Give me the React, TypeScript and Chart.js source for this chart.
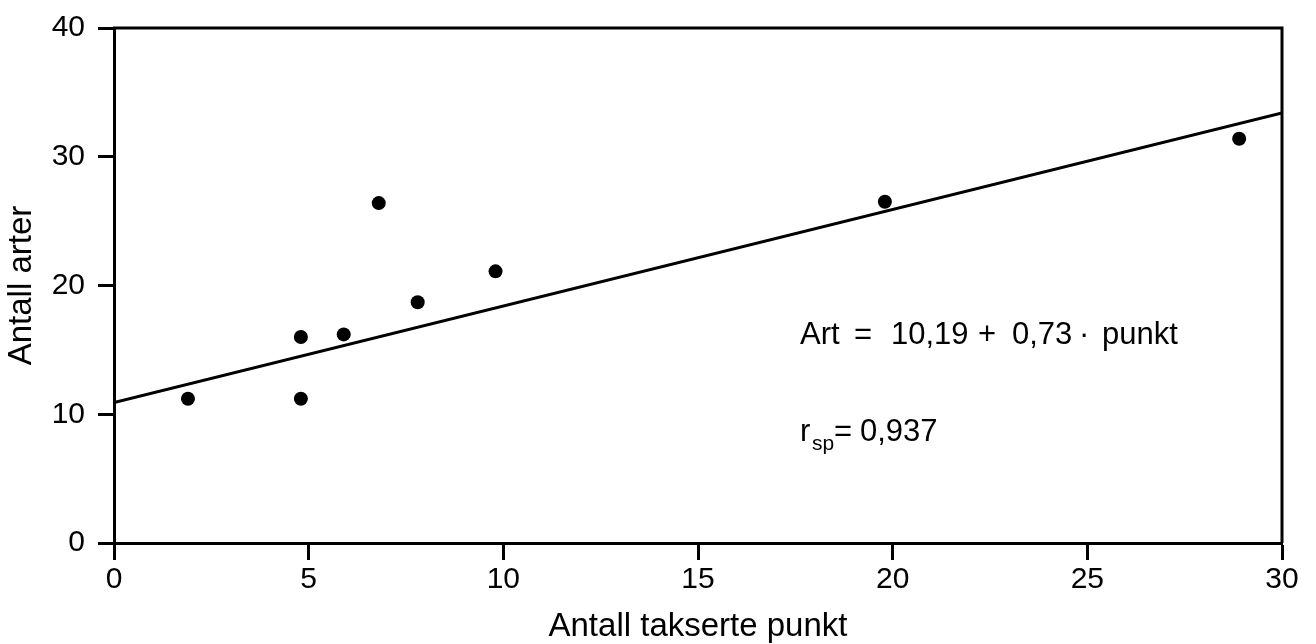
import React, { useEffect, useRef } from "react";
import { Chart, registerables } from "chart.js";

Chart.register(...registerables);

// Data
const pointX = [1.9, 4.8, 4.8, 5.9, 6.8, 7.8, 9.8, 19.8, 28.9];
const pointY = [11.2, 16.0, 11.2, 16.2, 26.4, 18.7, 21.1, 26.5, 31.4];
const fitX = [0, 30];
const fitY = [10.9, 33.4];
const xTickValues = [0, 5, 10, 15, 20, 25, 30];
const yTickValues = [0, 10, 20, 30, 40];
const xTitle = "Antall takserte punkt";
const yTitle = "Antall arter";
const equationParts = ["Art", "=", "10,19", "+", "0,73", "·", "punkt"];
const corrParts = ["r", "sp", "=", "0,937"];

const FONT = "'Liberation Sans', Arial, Helvetica, sans-serif";

const annotationPlugin = {
  id: "frameAndText",
  afterDraw(chart: any) {
    const { ctx, chartArea: a, scales } = chart;
    ctx.save();
    ctx.strokeStyle = "#000";
    ctx.lineWidth = 3;
    ctx.beginPath();
    ctx.moveTo(a.left - 1, a.top);
    ctx.lineTo(a.right, a.top);
    ctx.lineTo(a.right, a.bottom);
    ctx.stroke();

    ctx.fillStyle = "#000";
    ctx.textBaseline = "alphabetic";
    ctx.textAlign = "left";
    const x0 = scales.x.getPixelForValue(17.62);
    const yEq = scales.y.getPixelForValue(15.49);
    const eqOffsets = [0, 54, 91, 178, 212, 279, 302];
    ctx.font = `31px ${FONT}`;
    equationParts.forEach((t, i) => ctx.fillText(t, x0 + eqOffsets[i], yEq));

    const yR = scales.y.getPixelForValue(7.94);
    ctx.font = `31px ${FONT}`;
    ctx.fillText(corrParts[0], x0, yR);
    ctx.font = `21px ${FONT}`;
    ctx.fillText(corrParts[1], x0 + 12, yR + 9);
    ctx.font = `31px ${FONT}`;
    ctx.fillText(corrParts[2], x0 + 34, yR);
    ctx.fillText(corrParts[3], x0 + 60, yR);
    ctx.restore();
  },
};

export default function App() {
  const ref = useRef<HTMLCanvasElement | null>(null);

  useEffect(() => {
    if (!ref.current) return;
    const chart = new Chart(ref.current, {
      type: "scatter",
      data: {
        datasets: [
          {
            type: "scatter",
            data: pointX.map((x, i) => ({ x, y: pointY[i] })),
            pointRadius: 7,
            pointBackgroundColor: "#000",
            pointBorderWidth: 0,
            borderColor: "#000",
          },
          {
            type: "line",
            data: fitX.map((x, i) => ({ x, y: fitY[i] })),
            borderColor: "#000",
            borderWidth: 3,
            pointRadius: 0,
            fill: false,
          } as any,
        ],
      },
      options: {
        responsive: false,
        animation: false,
        devicePixelRatio: 1,
        layout: { padding: { left: 0, top: 24, right: 34, bottom: 0 } },
        plugins: { legend: { display: false }, tooltip: { enabled: false } },
        scales: {
          x: {
            type: "linear",
            min: 0,
            max: 30,
            afterFit: (s: any) => {
              s.height = 101;
            },
            afterBuildTicks: (s: any) => {
              s.ticks = xTickValues.map((v) => ({ value: v }));
            },
            border: { display: true, color: "#000", width: 3 },
            grid: {
              drawOnChartArea: false,
              drawTicks: true,
              tickLength: 17,
              tickWidth: 3,
              tickColor: "#000",
              color: "#000",
            },
            ticks: {
              color: "#000",
              padding: 5,
              maxRotation: 0,
              font: { family: FONT, size: 30, lineHeight: 1 },
            },
            title: {
              display: true,
              text: xTitle,
              color: "#000",
              padding: { top: 0, bottom: 1 },
              font: { family: FONT, size: 33, lineHeight: 1 },
            },
          },
          y: {
            type: "linear",
            min: 0,
            max: 40,
            afterFit: (s: any) => {
              s.width = 114;
            },
            afterBuildTicks: (s: any) => {
              s.ticks = yTickValues.map((v) => ({ value: v }));
            },
            border: { display: true, color: "#000", width: 3 },
            grid: {
              drawOnChartArea: false,
              drawTicks: true,
              tickLength: 16,
              tickWidth: 3,
              tickColor: "#000",
              color: "#000",
            },
            ticks: {
              color: "#000",
              padding: 13,
              font: { family: FONT, size: 30, lineHeight: 1 },
            },
            title: {
              display: true,
              text: yTitle,
              color: "#000",
              padding: { top: 5, bottom: 0 },
              font: { family: FONT, size: 33, lineHeight: 1 },
            },
          },
        },
      },
      plugins: [annotationPlugin],
    });
    return () => chart.destroy();
  }, []);

  return (
    <div style={{ position: "absolute", left: 0, top: 0, width: 1316, height: 644, background: "#fff" }}>
      <canvas ref={ref} width={1316} height={644} style={{ width: 1316, height: 644, display: "block" }} />
    </div>
  );
}
